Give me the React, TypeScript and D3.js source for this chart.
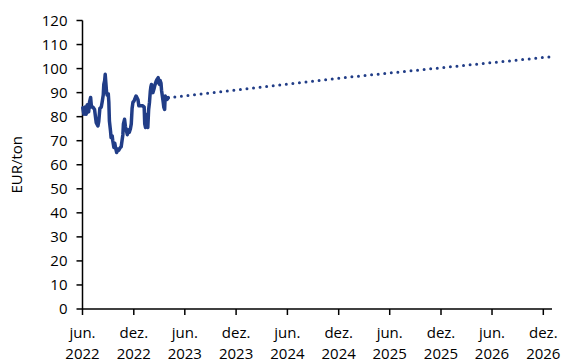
import React from "react";
import * as d3 from "d3";

// Historical price, EUR/ton
const histDates: string[] = [
  "2022-06-02", "2022-06-06", "2022-06-11", "2022-06-14", "2022-06-18", "2022-06-23", "2022-06-26", "2022-06-30",
  "2022-07-03", "2022-07-08", "2022-07-14", "2022-07-20", "2022-07-26", "2022-07-29", "2022-08-02", "2022-08-07",
  "2022-08-10", "2022-08-14", "2022-08-16", "2022-08-19", "2022-08-21", "2022-08-24", "2022-08-26", "2022-08-28",
  "2022-09-01", "2022-09-03", "2022-09-05", "2022-09-09", "2022-09-11", "2022-09-15", "2022-09-17", "2022-09-21",
  "2022-09-24", "2022-09-27", "2022-10-01", "2022-10-05", "2022-10-08", "2022-10-13", "2022-10-17", "2022-10-20",
  "2022-10-23", "2022-10-25", "2022-10-29", "2022-11-01", "2022-11-05", "2022-11-08", "2022-11-12", "2022-11-15",
  "2022-11-19", "2022-11-22", "2022-11-25", "2022-11-28", "2022-12-02", "2022-12-05", "2022-12-09", "2022-12-12",
  "2022-12-16", "2022-12-19", "2022-12-26", "2023-01-02", "2023-01-07", "2023-01-09", "2023-01-12", "2023-01-14",
  "2023-01-17", "2023-01-18", "2023-01-20", "2023-01-23", "2023-01-26", "2023-01-29", "2023-01-31", "2023-02-02",
  "2023-02-05", "2023-02-07", "2023-02-11", "2023-02-14", "2023-02-19", "2023-02-22", "2023-02-26", "2023-02-28",
  "2023-03-03", "2023-03-05", "2023-03-08", "2023-03-10", "2023-03-12", "2023-03-16", "2023-03-18", "2023-03-21",
  "2023-03-23", "2023-03-27", "2023-03-30", "2023-04-03",
];
const histValues: number[] = [
  83.7, 81, 84, 81, 85, 82, 86, 88,
  84, 84, 83, 77.5, 76.1, 78, 83.5, 84,
  86, 89, 93.4, 95, 97.6, 93, 90, 89,
  89.5, 86, 78.2, 74, 71.3, 72, 70, 67.2,
  69, 67, 65.1, 66.5, 66, 67, 67.5, 70,
  72.5, 77, 78.9, 76, 74, 72.5, 74.5, 73.5,
  75, 77, 83.5, 86, 86.5, 87.5, 88.6, 88,
  87, 84.5, 84.5, 84.5, 84, 77, 75.5, 80,
  81, 76, 75.5, 83, 86, 90.7, 92.5, 93.4,
  91, 90, 91.5, 93, 94.8, 95.5, 96.2, 94,
  93.4, 95, 94, 91, 89.3, 86, 84, 83,
  88.6, 87.5, 87.2, 87.9,
];

// Forward curve, EUR/ton
const fwdDates: string[] = ["2023-04-03", "2024-12-01", "2027-01-01"];
const fwdValues: number[] = [87.9, 96, 105];

const tickDates: string[] = [
  "2022-06-01", "2022-12-01", "2023-06-01", "2023-12-01", "2024-06-01",
  "2024-12-01", "2025-06-01", "2025-12-01", "2026-06-01", "2026-12-01",
];
const tickMonths: string[] = ["jun.", "dez.", "jun.", "dez.", "jun.", "dez.", "jun.", "dez.", "jun.", "dez."];
const tickYears: string[] = ["2022", "2022", "2023", "2023", "2024", "2024", "2025", "2025", "2026", "2026"];
const yTicks: number[] = [0, 10, 20, 30, 40, 50, 60, 70, 80, 90, 100, 110, 120];

const W = 566;
const H = 363;
const left = 82.5;
const right = 552;
const top = 20.5;
const bottom = 309;
const color = "#213D87";
const font = "'Open Sans', sans-serif";

export default function App() {
  const parse = d3.timeParse("%Y-%m-%d");
  const x = d3
    .scaleTime()
    .domain([parse("2022-06-01")!, parse("2027-01-01")!])
    .range([left, right]);
  const y = d3.scaleLinear().domain([0, 120]).range([bottom, top]);

  const line = d3
    .line<[string, number]>()
    .x((d) => x(parse(d[0])!))
    .y((d) => y(d[1]));

  const hist = histDates.map((d, i) => [d, histValues[i]] as [string, number]);
  const fwd = fwdDates.map((d, i) => [d, fwdValues[i]] as [string, number]);

  return (
    <svg
      width={W}
      height={H}
      style={{ position: "absolute", left: 0, top: 0, background: "#fff" }}
      fontFamily={font}
    >
      {/* y axis */}
      <line x1={left} x2={left} y1={top} y2={bottom} stroke="#000" strokeWidth={1.5} />
      {yTicks.map((t) => (
        <g key={t}>
          <line x1={left - 6} x2={left} y1={y(t)} y2={y(t)} stroke="#000" strokeWidth={1.5} />
          <text x={left - 15} y={y(t)} dy="0.35em" textAnchor="end" fontSize={15} fill="#000">
            {t}
          </text>
        </g>
      ))}
      <text
        transform={`translate(22,${(top + bottom) / 2}) rotate(-90)`}
        textAnchor="middle"
        fontSize={15}
        fill="#000"
      >
        EUR/ton
      </text>

      {/* x axis */}
      <line x1={left} x2={right} y1={bottom} y2={bottom} stroke="#000" strokeWidth={1.5} />
      {tickDates.map((d, i) => {
        const px = x(parse(d)!);
        return (
          <g key={d}>
            <line x1={px} x2={px} y1={bottom} y2={bottom + 6} stroke="#000" strokeWidth={1.5} />
            <text x={px} y={bottom + 29} textAnchor="middle" fontSize={15} fill="#000">
              {tickMonths[i]}
            </text>
            <text x={px} y={bottom + 50} textAnchor="middle" fontSize={15} fill="#000">
              {tickYears[i]}
            </text>
          </g>
        );
      })}

      {/* series */}
      <path
        d={line(fwd) ?? ""}
        fill="none"
        stroke={color}
        strokeWidth={3}
        strokeLinecap="round"
        strokeDasharray="0 6.6"
      />
      <path
        d={line(hist) ?? ""}
        fill="none"
        stroke={color}
        strokeWidth={3.5}
        strokeLinejoin="round"
        strokeLinecap="round"
      />
    </svg>
  );
}
